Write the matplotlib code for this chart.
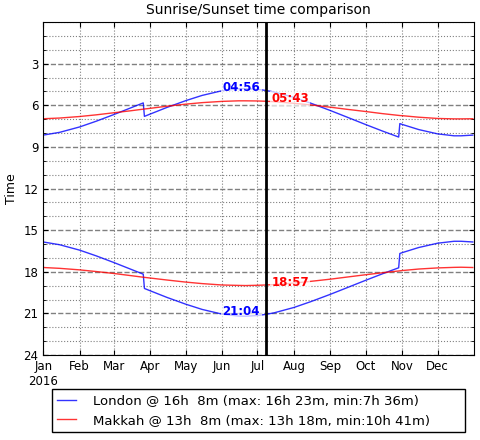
import datetime as dt
import matplotlib
matplotlib.use("Agg")
import matplotlib.pyplot as plt

# sample dates (2016) and times in hours
dates = ["2016-01-01", "2016-01-15", "2016-02-01", "2016-02-15", "2016-03-01", "2016-03-15",
         "2016-03-26", "2016-03-27", "2016-04-01", "2016-04-15", "2016-05-01", "2016-05-15",
         "2016-06-01", "2016-06-15", "2016-06-21", "2016-07-01", "2016-07-08", "2016-07-15",
         "2016-08-01", "2016-08-15", "2016-09-01", "2016-09-15", "2016-10-01", "2016-10-15",
         "2016-10-29", "2016-10-30", "2016-11-01", "2016-11-15", "2016-12-01", "2016-12-15",
         "2016-12-21", "2016-12-31"]

london_rise = [8.15, 7.95, 7.56, 7.15, 6.67, 6.20, 5.83, 6.80, 6.63, 6.16, 5.67, 5.29,
               4.95, 4.81, 4.80, 4.85, 4.93, 5.04, 5.43, 5.84, 6.38, 6.85, 7.39, 7.85,
               8.29, 7.32, 7.38, 7.75, 8.06, 8.20, 8.20, 8.15]
london_set = [15.85, 16.05, 16.44, 16.85, 17.33, 17.80, 18.17, 19.20, 19.37, 19.84, 20.33, 20.71,
              21.05, 21.19, 21.20, 21.15, 21.07, 20.96, 20.57, 20.16, 19.62, 19.15, 18.61, 18.15,
              17.71, 16.68, 16.62, 16.25, 15.94, 15.80, 15.80, 15.85]
makkah_rise = [6.97, 6.92, 6.81, 6.69, 6.54, 6.40, 6.28, 6.27, 6.22, 6.07, 5.92, 5.81,
               5.72, 5.68, 5.68, 5.69, 5.71, 5.74, 5.86, 5.97, 6.14, 6.29, 6.45, 6.60,
               6.73, 6.74, 6.75, 6.86, 6.95, 6.98, 6.98, 6.97]
makkah_set = [17.69, 17.75, 17.86, 17.98, 18.12, 18.27, 18.39, 18.40, 18.45, 18.59, 18.74, 18.85,
              18.95, 18.98, 18.99, 18.97, 18.95, 18.92, 18.81, 18.69, 18.53, 18.38, 18.21, 18.07,
              17.94, 17.93, 17.91, 17.80, 17.72, 17.68, 17.67, 17.69]

today = "2016-07-08"
today_labels = {"london": ("04:56", "21:04"), "makkah": ("05:43", "18:57")}
legend_labels = ["London @ 16h  8m (max: 16h 23m, min:7h 36m)",
                 "Makkah @ 13h  8m (max: 13h 18m, min:10h 41m)"]
month_labels = ["Jan\n2016", "Feb", "Mar", "Apr", "May", "Jun", "Jul", "Aug", "Sep", "Oct", "Nov", "Dec"]

x = [dt.datetime.strptime(d, "%Y-%m-%d") for d in dates]
t = dt.datetime.strptime(today, "%Y-%m-%d")
i = dates.index(today)

fig = plt.figure(figsize=(4.8, 4.4), dpi=100)
ax = fig.add_axes([0.09, 0.193, 0.8975, 0.757])

ax.plot(x, london_rise, color="blue", alpha=0.8, lw=1, label=legend_labels[0])
ax.plot(x, london_set, color="blue", alpha=0.8, lw=1)
ax.plot(x, makkah_rise, color="red", alpha=0.8, lw=1, label=legend_labels[1])
ax.plot(x, makkah_set, color="red", alpha=0.8, lw=1)
ax.axvline(t, color="black", lw=2)

box = dict(facecolor="white", edgecolor="none", alpha=0.7, pad=1)
for val, txt in zip([london_rise[i], london_set[i]], today_labels["london"]):
    ax.annotate(txt, (t, val), xytext=(-4, 2), textcoords="offset points",
                ha="right", va="center", color="blue", fontsize=8.5, fontweight="bold", bbox=box)
for val, txt in zip([makkah_rise[i], makkah_set[i]], today_labels["makkah"]):
    ax.annotate(txt, (t, val), xytext=(4, 2), textcoords="offset points",
                ha="left", va="center", color="red", fontsize=8.5, fontweight="bold", bbox=box)

ax.set_xlim(dt.datetime(2016, 1, 1), dt.datetime(2017, 1, 1))
ax.set_xticks([dt.datetime(2016, m, 1) for m in range(1, 13)])
ax.set_xticklabels(month_labels)
ax.set_ylim(24, 0)
ax.set_yticks(range(3, 25, 3))
ax.set_yticks(range(0, 25), minor=True)
ax.grid(True, which="major", axis="y", color="gray", linestyle="--", lw=1)
ax.grid(True, which="minor", axis="y", color="gray", linestyle=":", lw=0.8)
ax.grid(True, which="major", axis="x", color="gray", linestyle=":", lw=0.8)
ax.tick_params(which="both", direction="in", top=True, right=True, labelsize=8.5)
ax.tick_params(which="minor", length=2)
ax.tick_params(axis="x", pad=3.5)
ax.set_ylabel("Time", fontsize=9)
ax.set_title("Sunrise/Sunset time comparison", fontsize=10)

ax.legend(loc="upper left", bbox_to_anchor=(0.02, -0.202, 0.959, 0.1), mode="expand",
          borderaxespad=0, fontsize=9.5, handlelength=1.4, handletextpad=1.3,
          fancybox=False, edgecolor="black", framealpha=1)

fig.savefig("out.png", dpi=100)
